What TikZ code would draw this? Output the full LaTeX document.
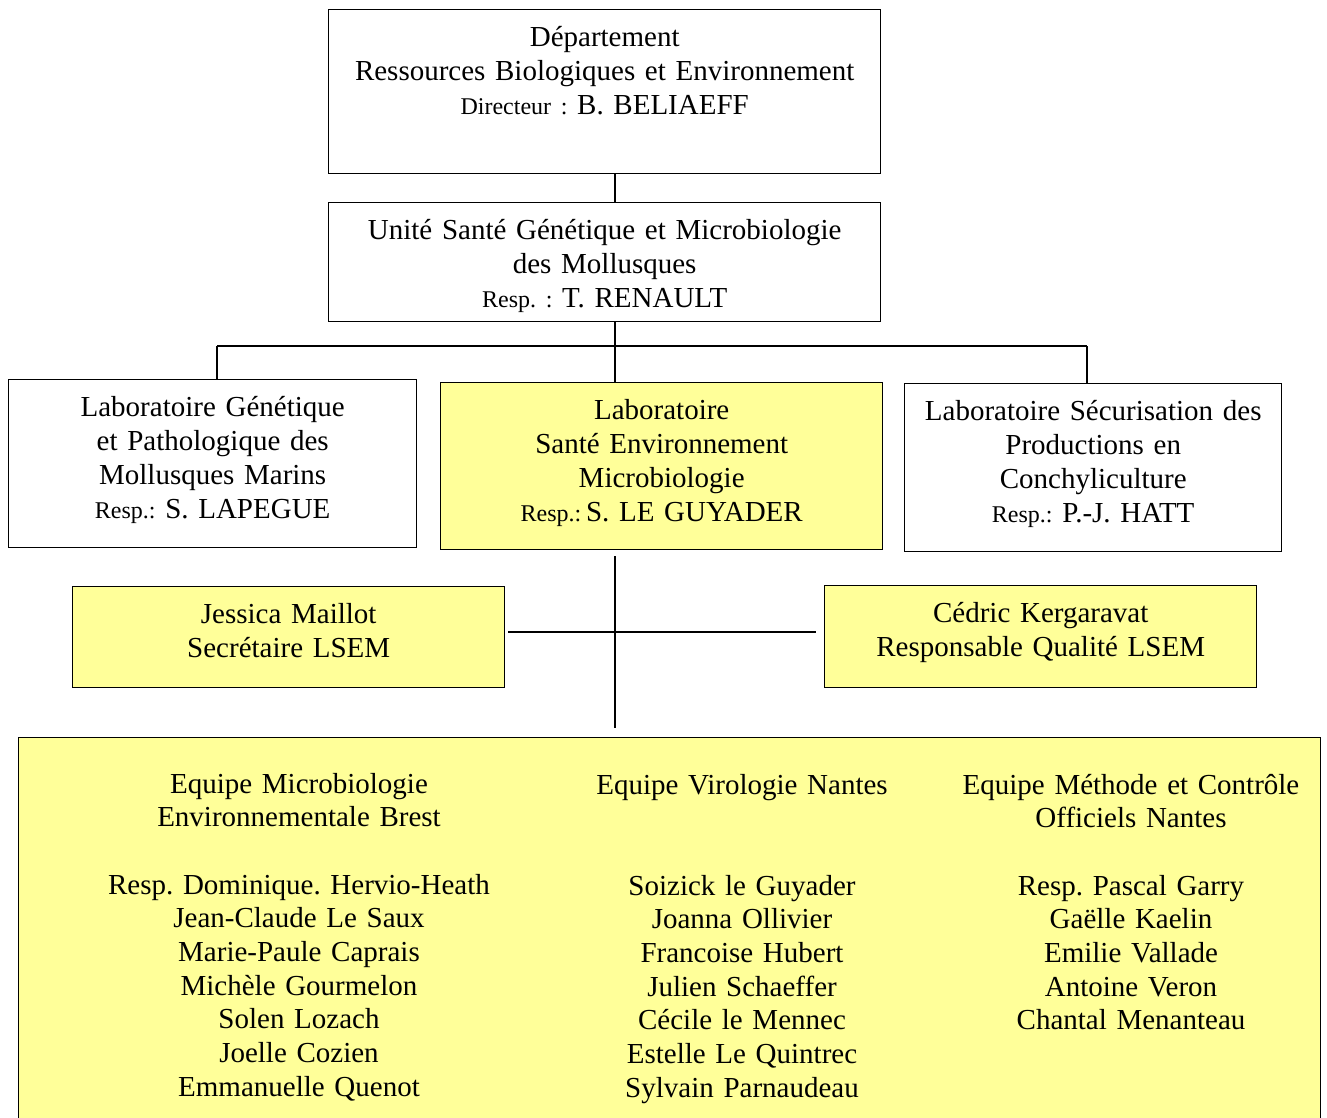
\documentclass[tikz,border=0pt]{standalone}
\usepackage{fontspec}
\setmainfont{Liberation Serif}
\frenchspacing
\definecolor{lsemyellow}{HTML}{FFFF99}
\newcommand{\sm}{\fontsize{24}{34}\selectfont}
\tikzset{
  box/.style 2 args={draw, inner sep=0pt, anchor=north west,
    text width=#1, text height=37pt, text depth=#2, align=center},
  col/.style={text width=#1, inner sep=0pt, anchor=base, align=center,
    font=\fontsize{29}{33.7}\selectfont},
}

\begin{document}
\begin{tikzpicture}[x=1pt, y=-1pt, font=\fontsize{29}{34}\selectfont, line width=1.4pt]
    \useasboundingbox (0,0) rectangle (1327,1117);

    \node[box={552pt}{127pt}] at (328,9) (dep)
        {Département\\Ressources Biologiques et Environnement\\{\sm Directeur :} B. BELIAEFF};
    \node[box={552pt}{82pt}] at (328,202) (unite)
        {Unité Santé Génétique et Microbiologie\\des Mollusques\\{\sm Resp. :} T. RENAULT};

    \node[box={408pt}{131pt}] at (8,379) (lgpmm)
        {Laboratoire Génétique\\et Pathologique des\\Mollusques Marins\\{\sm Resp.:} S. LAPEGUE};
    \node[box={442pt}{130pt}, fill=lsemyellow] at (440,382) (lsem)
        {Laboratoire\\Santé Environnement\\Microbiologie\\{\sm Resp.:}\,S. LE GUYADER};
    \node[box={377pt}{131pt}] at (904,383) (lspc)
        {Laboratoire Sécurisation des\\Productions en\\Conchyliculture\\{\sm Resp.:} P.-J. HATT};

    \node[box={432pt}{64pt}, fill=lsemyellow] at (72,586) (secr)
        {Jessica Maillot\\Secrétaire LSEM};
    \node[box={432pt}{65pt}, fill=lsemyellow] at (824,585) (qual)
        {Cédric Kergaravat\\Responsable Qualité LSEM};

    % equipes
    \node[draw, fill=lsemyellow, inner sep=0pt, anchor=north west,
        minimum width=1302pt, minimum height=420pt] at (18,737) (teams) {};
    \node[col=420pt] at (299,793) (brest)
        {Equipe Microbiologie\\Environnementale Brest\\[33.7pt]Resp. Dominique. Hervio-Heath\\Jean-Claude Le Saux\\Marie-Paule Caprais\\Michèle Gourmelon\\Solen Lozach\\Joelle Cozien\\Emmanuelle Quenot};
    \node[col=330pt] at (742,794) (viro)
        {Equipe Virologie Nantes\\[67.4pt]Soizick le Guyader\\Joanna Ollivier\\Francoise Hubert\\Julien Schaeffer\\Cécile le Mennec\\Estelle Le Quintrec\\Sylvain Parnaudeau};
    \node[col=360pt] at (1131,794) (mco)
        {Equipe Méthode et Contrôle\\Officiels Nantes\\[33.7pt]Resp. Pascal Garry\\Gaëlle Kaelin\\Emilie Vallade\\Antoine Veron\\Chantal Menanteau};

    \coordinate (spine) at (615,346);
    \coordinate (busl) at (217,346);
    \coordinate (busr) at (1087,346);
    \coordinate (stemtop) at (615,556);
    \coordinate (stembot) at (615,728);
    \coordinate (arml) at (508,632);
    \coordinate (armr) at (816,632);

    \draw (dep.south -| spine) -- (unite.north -| spine);
    \draw (unite.south -| spine) -- (lsem.north -| spine);
    \draw (busl) -- (busr);
    \draw (busl) -- (lgpmm.north -| busl);
    \draw (busr) -- (lspc.north -| busr);
    \draw (stemtop) -- (stembot);
    \draw (arml) -- (armr);
\end{tikzpicture}
\end{document}
